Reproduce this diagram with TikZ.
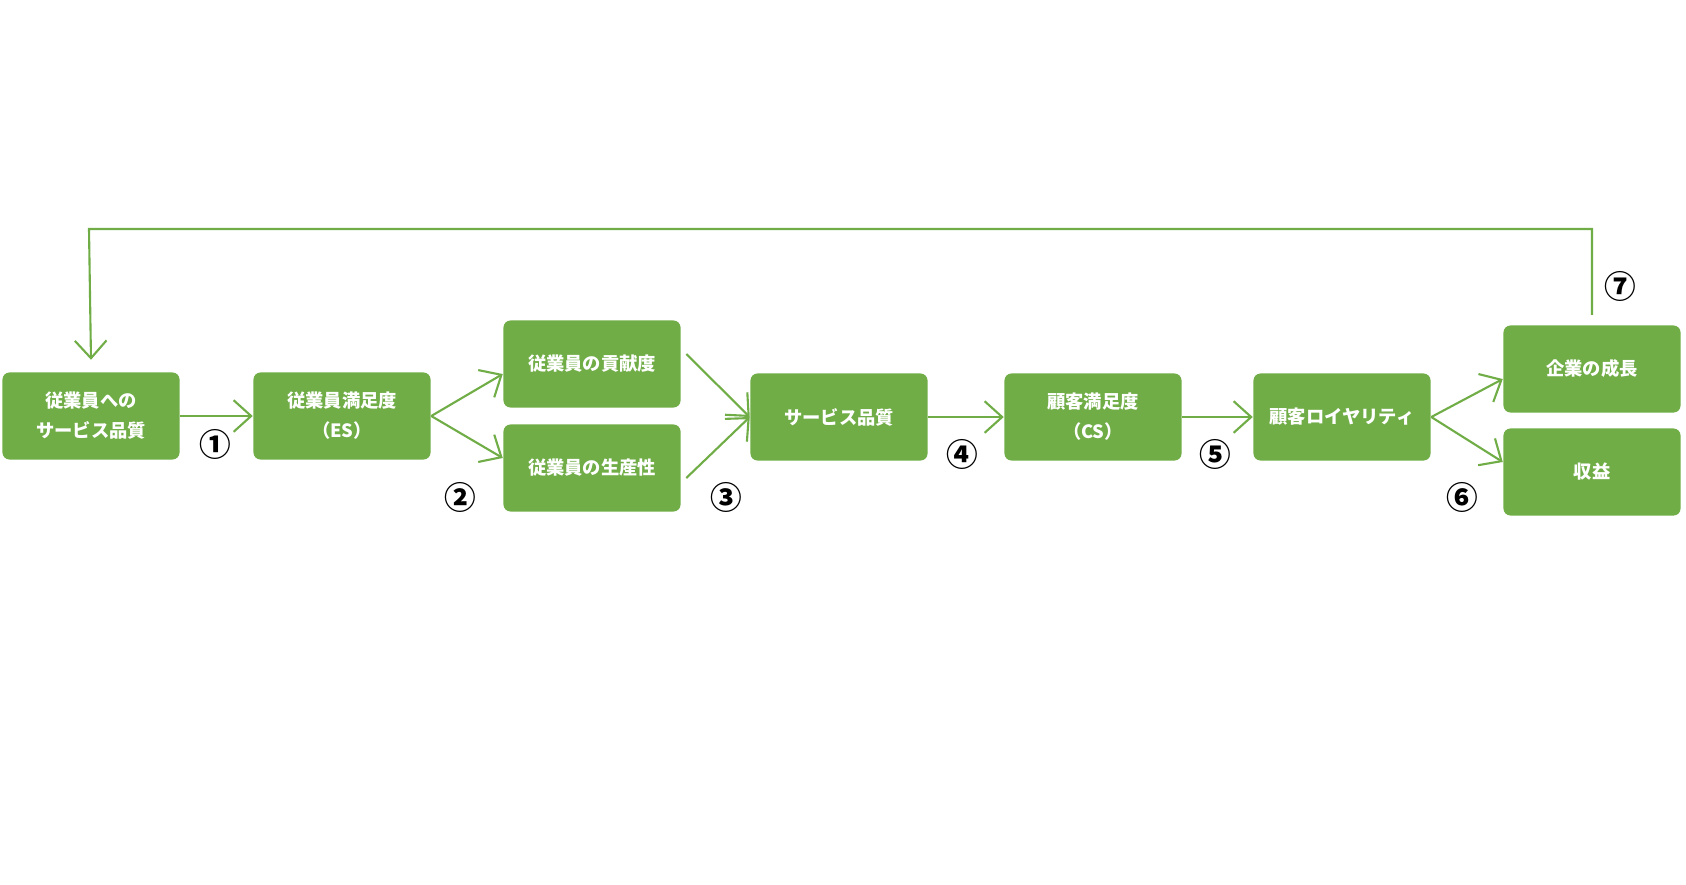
\documentclass[tikz,border=0pt]{standalone}
\usepackage{fontspec}
\setmainfont{Noto Sans CJK JP}
\usetikzlibrary{arrows.meta}
\definecolor{leaf}{HTML}{70AD47}
\tikzset{>={Straight Barb[length=5pt,width=9pt]}}
\tikzset{
    stage/.style={rectangle,fill=leaf,rounded corners=2pt,minimum width=1.77cm,minimum height=0.87cm,
      inner sep=0pt,text=white,font=\fontsize{5.2}{8.5}\selectfont\bfseries,align=center},
    flow/.style={draw=leaf,line width=0.6pt,->},
    num/.style={font=\fontsize{9}{9}\selectfont\bfseries},
}
\begin{document}
\begin{tikzpicture}[x=0.01cm,y=-0.01cm]
	\useasboundingbox (0,0) rectangle (1686,884);
	\node[stage] (esq) at (91,416) {従業員への\\サービス品質};
	\node[stage] (es) at (342,416) {従業員満足度\\（ES）};
	\node[stage] (contrib) at (592,364) {従業員の貢献度};
	\node[stage] (prod) at (592,468) {従業員の生産性};
	\node[stage] (sq) at (839,417) {サービス品質};
	\node[stage] (cs) at (1093,417) {顧客満足度\\（CS）};
	\node[stage] (loyal) at (1342,417) {顧客ロイヤリティ};
	\node[stage] (growth) at (1592,369) {企業の成長};
	\node[stage] (profit) at (1592,472) {収益};

	\draw[flow] (esq) -- (es);
	\draw[flow] (es.east) -- ([yshift=-0.1cm]contrib.west);
	\draw[flow] (es.east) -- ([yshift=0.1cm]prod.west);
	\draw[flow] ([xshift=0.05cm,yshift=0.1cm]contrib.east) -- (sq.west);
	\draw[flow] ([xshift=0.05cm,yshift=-0.1cm]prod.east) -- (sq.west);
	\draw[flow] (sq) -- (cs);
	\draw[flow] (cs) -- (loyal);
	\draw[flow] (loyal.east) -- ([yshift=-0.1cm]growth.west);
	\draw[flow] (loyal.east) -- ([yshift=0.1cm]profit.west);
	\draw[flow] ([yshift=0.1cm]growth.north) |- (89,229) -- ([yshift=0.12cm]esq.north);

	\node[num] (n1) at (215,444) {①};
	\node[num] (n2) at (460,497) {②};
	\node[num] (n3) at (726,497) {③};
	\node[num] (n4) at (962,454) {④};
	\node[num] (n5) at (1215,454) {⑤};
	\node[num] (n6) at (1462,497) {⑥};
	\node[num] (n7) at (1620,286) {⑦};
\end{tikzpicture}
\end{document}
